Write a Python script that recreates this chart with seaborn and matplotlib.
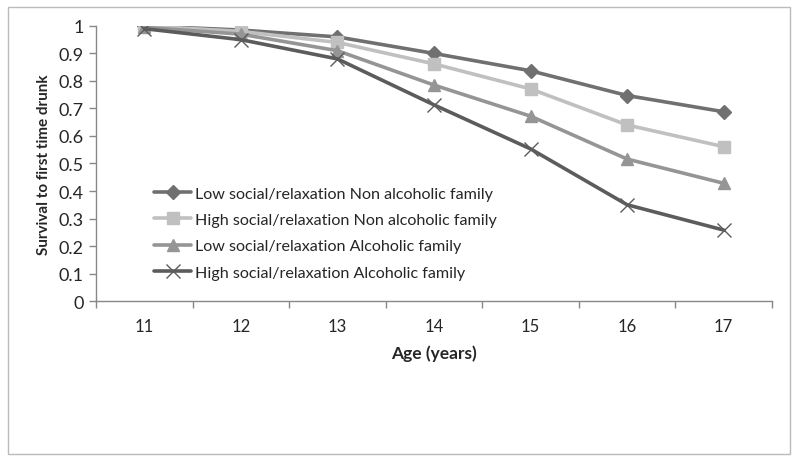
import pandas as pd
import seaborn as sns
import matplotlib.pyplot as plt
from matplotlib.patches import Rectangle
from matplotlib.ticker import MultipleLocator, FixedLocator

ages = [11, 12, 13, 14, 15, 16, 17]
low_nonalc = [1.0, 0.985, 0.96, 0.90, 0.837, 0.747, 0.688]
high_nonalc = [1.0, 0.98, 0.94, 0.862, 0.771, 0.64, 0.561]
low_alc = [0.995, 0.97, 0.91, 0.785, 0.672, 0.516, 0.428]
high_alc = [0.99, 0.95, 0.88, 0.713, 0.553, 0.35, 0.258]

labels = ['Low social/relaxation Non alcoholic family',
          'High social/relaxation Non alcoholic family',
          'Low social/relaxation Alcoholic family',
          'High social/relaxation Alcoholic family']
yticks = [0, 0.1, 0.2, 0.3, 0.4, 0.5, 0.6, 0.7, 0.8, 0.9, 1]
ytick_labels = ['0', '0.1', '0.2', '0.3', '0.4', '0.5', '0.6', '0.7', '0.8', '0.9', '1']

sns.set_style('white')
plt.rcParams['font.family'] = ['Lato', 'DejaVu Sans']

fig = plt.figure(figsize=(8, 4.64), dpi=100)
ax = fig.add_axes([0.12, 0.349, 0.845, 0.593])

series = [
    (low_nonalc, '#707070', 'D', 7, 1),
    (high_nonalc, '#c0c0c0', 's', 8, 1),
    (low_alc, '#959595', '^', 8, 1),
    (high_alc, '#5c5c5c', 'x', 10, 1.0),
]
for (vals, color, marker, ms, mew), label in zip(series, labels):
    df = pd.DataFrame({'age': ages, 'surv': vals})
    sns.lineplot(data=df, x='age', y='surv', ax=ax, color=color, lw=2.6,
                 marker=marker, markersize=ms, markeredgewidth=mew,
                 markeredgecolor=color, label=label)

ax.set_xlim(10.5, 17.5)
ax.set_ylim(0, 1)
ax.xaxis.set_major_locator(FixedLocator(ages))
ax.xaxis.set_minor_locator(MultipleLocator(1, offset=0.5))
ax.yaxis.set_major_locator(FixedLocator(yticks))
ax.set_yticklabels(ytick_labels)
ax.tick_params(axis='x', which='major', length=0, pad=12, labelsize=12)
ax.tick_params(axis='x', which='minor', length=5, color='#888888', width=1, direction='out')
ax.tick_params(axis='y', length=5, color='#888888', width=1, direction='out', labelsize=13, pad=4)
ax.tick_params(bottom=True, left=True, which='both')

for side in ['top', 'right']:
    ax.spines[side].set_visible(False)
for side in ['left', 'bottom']:
    ax.spines[side].set_color('#888888')
    ax.spines[side].set_linewidth(1)

ax.set_xlabel('Age (years)', fontweight='bold', fontsize=12.5, labelpad=8)
ax.set_ylabel('Survival to first time drunk', fontweight='bold', fontsize=11, labelpad=5)

leg = ax.legend(loc='upper left', bbox_to_anchor=(0.065, 0.47), frameon=False,
                fontsize=11.6, handlelength=2.3, handletextpad=0.2, labelspacing=0.75)

fig.patches.append(Rectangle((0.01, 0.019), 0.978, 0.963, transform=fig.transFigure,
                             fill=False, edgecolor='#bbbbbb', lw=1))

fig.savefig('out.png', dpi=100)
